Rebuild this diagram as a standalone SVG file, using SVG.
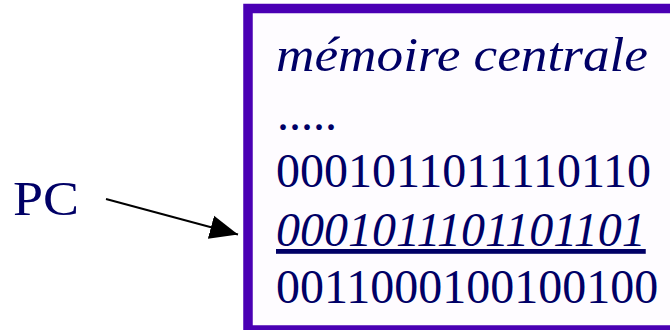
<svg xmlns="http://www.w3.org/2000/svg" width="670" height="330" viewBox="0 0 670 330">
<style>
.t{font-family:"Liberation Serif","Times New Roman",serif;fill:#000066;font-size:48px}
.i{font-style:italic}
</style>
<defs>
<marker id="ah" markerUnits="userSpaceOnUse" markerWidth="30" markerHeight="30" refX="28" refY="12" orient="auto" viewBox="0 0 30 24">
<path d="M0,0 L28,12 L0,24 Z" fill="#000"/>
</marker>
</defs>
<rect width="670" height="330" fill="#ffffff"/>
<g id="memoire">
<rect x="248" y="8.5" width="440" height="321.5" fill="#fefcff" stroke="#4a00b4" stroke-width="9.5"/>
<text class="t i" x="276" y="71" font-size="55" textLength="372" lengthAdjust="spacingAndGlyphs">mémoire centrale</text>
<text class="t" x="277" y="130">.....</text>
<text class="t" x="276" y="187">0001011011110110</text>
<text class="t i" x="276" y="246" text-decoration="underline">0001011101101101</text>
<text class="t" x="276" y="303">0011000100100100</text>
</g>
<g id="pc">
<text class="t" x="13" y="215" font-size="56" textLength="66" lengthAdjust="spacingAndGlyphs">PC</text>
</g>
<g id="connectors">
<line x1="106" y1="199" x2="238" y2="234.5" stroke="#000" stroke-width="2" marker-end="url(#ah)"/>
</g>
</svg>
